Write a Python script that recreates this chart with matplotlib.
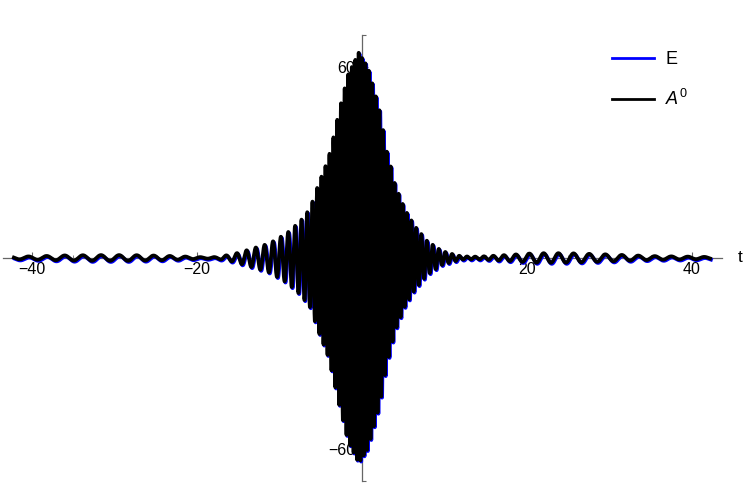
"""
Chirped pulse: E and A^0 versus t, drawn in the Mathematica axis style
(axes crossing at the origin, no frame, legend at the upper right).
"""

import numpy as np
import matplotlib.pyplot as plt
from matplotlib.lines import Line2D

plt.rcParams["font.family"] = ["Liberation Sans", "DejaVu Sans"]
plt.rcParams["mathtext.fontset"] = "custom"
plt.rcParams["mathtext.rm"] = "Liberation Sans"
plt.rcParams["mathtext.it"] = "Liberation Sans:italic"

# ---------------------------------------------------------------------------
# Values
# ---------------------------------------------------------------------------

# envelope (peak height) of A^0 against t
ENV_T = [-42.2, -40, -36, -32, -28, -24, -21, -19, -17.5, -16.5, -15.6, -13.6,
         -11.2, -9.1, -7.5, -6.3, -5.3, -4.1, -3.5, -2.7, -1.7, -0.4,
         0.7, 1.6, 2.2, 3.0, 3.6, 4.0, 5.2, 6.4, 7.9, 9.7, 11.0, 12.1, 14.0,
         16.0, 18.0, 21.0, 25.0, 30.0, 35.0, 40.0, 42.2]
ENV_A = [0.4, 0.5, 0.8, 0.9, 0.9, 0.7, 0.4, 0.2, 0.3, 0.8, 1.2, 2.7,
         4.6, 7.8, 11.5, 15.5, 23.0, 31.0, 37.5, 47.0, 57.5, 64.5,
         60.0, 51.5, 45.5, 33.5, 27.5, 23.0, 15.2, 10.0, 5.3, 2.2, 1.2, 0.5, 0.4,
         0.7, 1.0, 1.5, 1.5, 1.1, 0.6, 0.4, 0.3]

# local oscillation period (spacing of the lobes) against t
PER_T = [-42.2, -30, -20, -15, -11, -8, -5, 0, 5, 8, 11, 15, 20, 30, 42.2]
PER_V = [2.2, 2.2, 1.8, 1.2, 1.0, 0.8, 0.5, 0.4, 0.5, 0.7, 0.85, 1.1, 1.7, 2.0, 2.0]

T_PEAK = -0.4          # time of the central maximum
E_SHIFT_T = 0.10       # E lies slightly later ...
E_SHIFT_Y = -0.35      # ... and slightly lower than A^0

X_TICKS = [-40, -20, 20, 40]
Y_TICKS = [-60, -40, -20, 20, 40, 60]
Y_LABELED = [-60, 60]  # the others sit under the curve


# ---------------------------------------------------------------------------
# Curves
# ---------------------------------------------------------------------------

def pulse(t):
    env = np.interp(t, ENV_T, ENV_A)
    period = np.interp(t, PER_T, PER_V)
    phase = np.concatenate([[0.0], np.cumsum(2 * np.pi / period[:-1] * np.diff(t))])
    phase -= np.interp(T_PEAK, t, phase)
    return env * np.cos(phase)


def minus(v):
    return f"{v}".replace("-", "\u2212")


t = np.linspace(ENV_T[0], ENV_T[-1], 40000)
a0 = pulse(t)
e = a0 + E_SHIFT_Y

fig = plt.figure(figsize=(7.47, 4.83), dpi=100)
ax = fig.add_axes([0, 0, 1, 1])

ax.plot(t + E_SHIFT_T, e, color="#0000ff", lw=2.7, zorder=3)
ax.plot(t, a0, color="black", lw=2.7, zorder=4)

ax.set_xlim(-43.88, 46.67)
ax.set_ylim(-70.75, 81.1)

# Mathematica-style axes through the origin
for side in ("top", "right"):
    ax.spines[side].set_visible(False)
ax.spines["left"].set_position(("data", 0))
ax.spines["bottom"].set_position(("data", 0))
ax.spines["bottom"].set_bounds(-43.5, 43.7)
ax.spines["left"].set_bounds(-70, 70)
for side in ("left", "bottom"):
    ax.spines[side].set_color("#666666")
    ax.spines[side].set_linewidth(0.9)
    ax.spines[side].set_zorder(1)
ax.set_axisbelow(True)

ax.set_xticks(X_TICKS)
ax.set_xticklabels([minus(v) for v in X_TICKS])
ax.set_yticks(Y_TICKS)
ax.set_yticklabels([minus(v) if v in Y_LABELED else "" for v in Y_TICKS])
ax.set_xticks([-35, -30, -25, -15, -10, -5, 5, 10, 15, 25, 30, 35], minor=True)
ax.set_yticks([-70, 70], minor=True)
ax.tick_params(axis="both", which="major", direction="in", length=4,
               width=0.8, color="#666666", labelsize=11.5, labelcolor="black")
ax.tick_params(axis="x", which="major", pad=3)
ax.tick_params(axis="y", which="major", pad=5)
ax.tick_params(axis="x", which="minor", direction="in", length=2.5,
               width=0.6, color="#666666")
ax.tick_params(axis="y", which="minor", direction="in", length=3,
               width=0.8, color="#666666")

ax.text(45.6, 0, "t", fontsize=12.5, ha="left", va="center")

handles = [Line2D([], [], color="#0000ff", lw=2.0),
           Line2D([], [], color="black", lw=2.0)]
ax.legend(handles, ["E", "$A^0$"], loc="upper left",
          bbox_to_anchor=(612 / 747, 1 - 51 / 483), bbox_transform=fig.transFigure,
          frameon=False, fontsize=13, handlelength=2.3, handletextpad=0.65,
          labelspacing=1.15, borderpad=0, borderaxespad=0)

fig.savefig("out.png", dpi=100)
